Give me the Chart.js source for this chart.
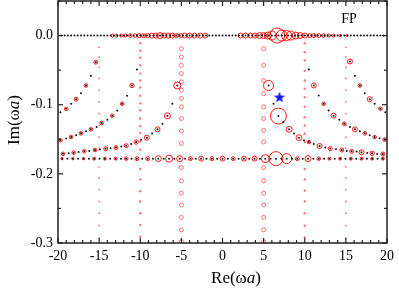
<!DOCTYPE html>
<html>
<head>
<meta charset="utf-8">
<script src="https://cdn.jsdelivr.net/npm/chart.js@4"></script>
<style>
  body { margin: 0; background: #fff; }
</style>
</head>
<body>
<canvas id="modes" width="399" height="288"></canvas>
<script>
// axis ticks
var xTicks = [-20, -15, -10, -5, 0, 5, 10, 15, 20];
var xMinor = [-19, -18, -17, -16, -14, -13, -12, -11, -9, -8, -7, -6, -4, -3, -2, -1,
              1, 2, 3, 4, 6, 7, 8, 9, 11, 12, 13, 14, 16, 17, 18, 19];
var yTicks = [-0.3, -0.2, -0.1, 0.0];
var yMinor = [-0.25, -0.15, -0.05, 0.05];

// modes on the real axis (Im = 0)
var realAxisX = [-19.6, -19.2, -18.8, -18.4, -18, -17.6, -17.2, -16.8, -16.4, -16,
  -15.6, -15.2, -14.8, -14.4, -14, -13.6, -13.2, -12.8, -12.4, -12,
  -11.6, -11.2, -10.8, -10.4, -10, -9.6, -9.2, -8.8, -8.4, -8,
  -7.6, -7.2, -6.8, -6.4, -6, -5.6, -5.2, -4.8, -4.4, -4,
  -3.6, -3.2, -2.8, -2.4, -2, -1.6, -1.2, -0.8, -0.4, 0,
  0.4, 0.8, 1.2, 1.6, 2, 2.4, 2.8, 3.2, 3.6, 4,
  4.4, 4.8, 5.2, 5.6, 6, 6.4, 6.8, 7.2, 7.6, 8,
  8.4, 8.8, 9.2, 9.6, 10, 10.4, 10.8, 11.2, 11.6, 12,
  12.4, 12.8, 13.2, 13.6, 14, 14.4, 14.8, 15.2, 15.6, 16,
  16.4, 16.8, 17.2, 17.6, 18, 18.4, 18.8, 19.2, 19.6];
var realRedX = [-13.4, -12.9, -12.3, -11.8, -11.2, -10.6, -10.1, -9.6, -9.1, -8.6, -8.1,
  -7.6, -7.1, -6.6, -6.1, -5.6, -5.1, -4.6, -4.0, -3.4, -2.7, -2.1,
  2.2, 2.8, 3.4, 3.95, 4.5, 5.0, 5.5, 6.0, 6.65, 7.2, 7.8, 8.3, 8.9, 9.45,
  10.0, 10.6, 11.1, 11.7, 12.3, 12.9, 13.5, 14.3, 15.1];
var realRedW = [1.5, 1.5, 1.5, 1.5, 1.8, 1.8, 2, 2, 2, 2.5, 2.5,
  3, 2.5, 2.5, 2.5, 2, 2, 2.5, 2.5, 2.5, 2.5, 2.5,
  2.5, 2.5, 2.5, 2.5, 3, 3, 3.5, 4.5, 7.5, 5.5, 5, 4.5, 3.5, 3,
  2.5, 2, 2, 2, 1.8, 1.5, 1.5, 1.2, 1];

// horizontal row of modes
var rowIm = -0.178;
var rowX = [-19.5, -18.85, -18.2, -17.55, -16.9, -16.25, -15.6, -14.95, -14.3, -13.65,
  -13.0, -12.35, -11.7, -11.05, -10.4, -9.75, -9.1, -8.45, -7.8, -7.15,
  -6.5, -5.85, -5.2, -4.55, -3.9, -3.25, -2.6, -1.95, -1.3, -0.65,
  0, 0.65, 1.3, 1.95, 2.6, 3.25, 3.9, 4.55, 5.2, 5.85,
  6.5, 7.15, 7.8, 8.45, 9.1, 9.75, 10.4, 11.05, 11.7, 12.35,
  13.0, 13.65, 14.3, 14.95, 15.6, 16.25, 16.9, 17.55, 18.2, 18.85, 19.5];
var rowRedX = [-19.5, -18.2, -16.9, -15.6, -14.3, -13, -11.7, -10.4, -9.1, -7.8, -6.5,
  -5.2, -3.9, -2.6, -1.3, 0, 1.3, 2.6, 3.9, 5.2, 6.5, 7.8, 9.1, 10.4, 11.7,
  13, 14.3, 15.6, 16.9, 18.2, 19.5];
var rowRedW = [1.2, 1.2, 1.2, 1.5, 1.5, 1.5, 1.8, 2, 2, 3, 3.5,
  3, 2, 2.5, 2, 2.5, 2, 2.5, 2.5, 4, 7, 5, 2, 3, 1.8,
  1.5, 1.5, 1.5, 1.5, 1.5, 1.5];

// branches (left / right)
var leftAX = [-19.7, -19.0, -18.4, -17.8, -17.2, -16.6, -16.0, -15.4];
var leftAY = [-0.111, -0.106, -0.0987, -0.092, -0.0833, -0.0722, -0.0582, -0.0385];
var leftAW = [0, 1.8, 0, 2, 0, 1.8, 0, 2];
var rightAX = [15.5, 16.1, 16.7, 17.3, 17.9, 18.5, 19.2, 19.8];
var rightAY = [-0.0375, -0.0582, -0.0722, -0.0833, -0.092, -0.0986, -0.1058, -0.111];
var rightAW = [2.5, 0, 1.8, 0, 2.5, 0, 1.8, 0];

var leftBX = [-19.7, -19.0, -18.4, -17.8, -17.2, -16.6, -16.0, -15.3, -14.7, -14.0,
  -13.4, -12.8, -12.2, -11.6, -11.0, -10.4];
var leftBY = [-0.1515, -0.149, -0.1467, -0.1443, -0.1414, -0.1385, -0.1356, -0.1323, -0.1265, -0.1217,
  -0.1159, -0.1082, -0.0986, -0.087, -0.0722, -0.0491];
var leftBW = [1.8, 0, 1.8, 0, 1.8, 0, 1.8, 0, 1.8, 0, 1.8, 0, 1.8, 0, 2.2, 0];
var rightBX = [10.5, 11.1, 11.7, 12.3, 12.9, 13.5, 14.2, 14.8, 15.5, 16.1,
  16.7, 17.3, 17.9, 18.5, 19.1, 19.7];
var rightBY = [-0.049, -0.0722, -0.0866, -0.0986, -0.1082, -0.1159, -0.1217, -0.1274, -0.1323, -0.1356,
  -0.1385, -0.1414, -0.1443, -0.1467, -0.1486, -0.1505];
var rightBW = [0, 2.5, 0, 1.8, 0, 2.5, 0, 1.8, 0, 2.5, 0, 1.8, 0, 1.8, 0, 1.8];

var leftCX = [-19.4, -18.7, -18.1, -17.5, -16.8, -16.2, -15.5, -14.9, -14.2, -13.6,
  -12.95, -12.3, -11.7, -11.1, -10.5, -9.9, -9.2, -8.56, -7.9, -7.3, -6.7, -6.1, -5.5];
var leftCY = [-0.171, -0.1703, -0.1693, -0.1684, -0.1674, -0.1669, -0.1655, -0.1648, -0.1638, -0.163,
  -0.162, -0.1606, -0.1592, -0.1568, -0.154, -0.1505, -0.1477, -0.1418, -0.1356, -0.1274,
  -0.1159, -0.0986, -0.0722];
var leftCW = [1.8, 0, 1.8, 0, 1.8, 0, 1.8, 0, 2, 0, 2, 0, 2, 0, 2.2, 0, 2.5, 0, 2.5, 0, 3, 0, 3.5];
var rightCX = [5.6, 6.2, 6.8, 7.4, 8.1, 8.7, 9.3, 9.9, 10.5, 11.1, 11.8, 12.5,
  13.1, 13.8, 14.5, 15.1, 15.7, 16.3, 16.9, 17.6, 18.2, 18.8, 19.5];
var rightCY = [-0.0722, -0.0986, -0.1164, -0.1251, -0.1356, -0.1418, -0.1477, -0.1515, -0.154, -0.1568,
  -0.1597, -0.162, -0.1635, -0.1645, -0.1655, -0.167, -0.1674, -0.1678, -0.1688, -0.1699,
  -0.1703, -0.1713, -0.1713];
var rightCW = [5, 0, 8, 0, 3, 0, 3, 0, 1.8, 0, 2.5, 0, 2, 0, 2, 0, 2, 0, 2.5, 0, 2.2, 0, 2];

// vertical columns of modes
var col5LY = [-0.019, -0.031, -0.043, -0.055, -0.067, -0.079, -0.091, -0.103, -0.120, -0.138,
  -0.156, -0.191, -0.210, -0.228, -0.245, -0.263, -0.281, -0.298];
var col5RY = [-0.019, -0.043, -0.065, -0.084, -0.103, -0.120, -0.137, -0.154,
  -0.191, -0.210, -0.228, -0.245, -0.263, -0.281, -0.298];
var col10LY = [-0.011, -0.022, -0.032, -0.043, -0.055, -0.065, -0.075, -0.087, -0.098, -0.108,
  -0.120, -0.131, -0.141, -0.153, -0.165, -0.193, -0.208, -0.225, -0.240, -0.257, -0.274, -0.291];
var col10RY = [-0.011, -0.024, -0.036, -0.051, -0.065, -0.077, -0.089, -0.103, -0.118, -0.130,
  -0.142, -0.154, -0.193, -0.208, -0.224, -0.240, -0.257, -0.275, -0.292];
var col15Y = [-0.017, -0.031, -0.046, -0.062, -0.079, -0.096, -0.113, -0.130, -0.147, -0.163,
  -0.190, -0.206, -0.223, -0.240, -0.257, -0.275, -0.293];

// marked mode
var starX = [6.93];
var starY = [-0.089];

function pts(xs, ys) {
  return xs.map(function (x, i) { return { x: x, y: Array.isArray(ys) ? ys[i] : ys }; });
}
function rings(xs, ys, ws) {
  var out = [];
  xs.forEach(function (x, i) {
    if (ws[i] > 0) out.push({ x: x, y: Array.isArray(ys) ? ys[i] : ys, w: ws[i] });
  });
  return out;
}

var black = '#111';
var red = 'rgba(255,0,0,0.9)';
var pink = 'rgba(255,70,70,0.75)';

function dots(data) {
  return { data: data, order: 0, pointRadius: 1, pointBackgroundColor: black,
           pointBorderWidth: 0, showLine: false };
}
function ringSet(data) {
  return { data: data, order: 1, showLine: false, pointBackgroundColor: 'rgba(0,0,0,0)',
           pointBorderColor: red, pointBorderWidth: 1,
           pointRadius: function (c) { return c.raw ? c.raw.w : 0; } };
}
function column(data, r, filled) {
  return { data: data, order: 2, showLine: false, pointRadius: r,
           pointBackgroundColor: filled ? pink : 'rgba(0,0,0,0)',
           pointBorderColor: pink, pointBorderWidth: filled ? 0 : 1 };
}

// filled blue star used as point style
var starImg = document.createElement('canvas');
starImg.width = 12; starImg.height = 12;
(function () {
  var c = starImg.getContext('2d');
  c.beginPath();
  for (var k = 0; k < 10; k++) {
    var r = k % 2 === 0 ? 6 : 2.4;
    var a = -Math.PI / 2 + k * Math.PI / 5;
    c.lineTo(6 + r * Math.cos(a), 6.5 + r * Math.sin(a));
  }
  c.closePath();
  c.fillStyle = '#1010ff';
  c.fill();
})();

var serif = "'Liberation Serif', 'DejaVu Serif', serif";

function drawMixed(ctx, parts, cx, cy) {
  var total = 0;
  parts.forEach(function (p) { ctx.font = p[1]; total += ctx.measureText(p[0]).width; });
  var x = cx - total / 2;
  parts.forEach(function (p) {
    ctx.font = p[1];
    ctx.fillText(p[0], x, cy);
    x += ctx.measureText(p[0]).width;
  });
}

var decor = {
  id: 'decor',
  afterDatasetsDraw: function (chart) {
    var ctx = chart.ctx, a = chart.chartArea, sx = chart.scales.x, sy = chart.scales.y;
    ctx.save();
    ctx.strokeStyle = '#222';
    ctx.lineWidth = 1.2;
    function seg(x1, y1, x2, y2) { ctx.beginPath(); ctx.moveTo(x1, y1); ctx.lineTo(x2, y2); ctx.stroke(); }
    function xt(v, len) {
      var p = sx.getPixelForValue(v);
      seg(p, a.bottom, p, a.bottom - len); seg(p, a.top, p, a.top + len);
    }
    function yt(v, len) {
      var p = sy.getPixelForValue(v);
      seg(a.left, p, a.left + len, p); seg(a.right, p, a.right - len, p);
    }
    xTicks.forEach(function (v) { xt(v, 5); });
    xMinor.forEach(function (v) { xt(v, 3); });
    yTicks.forEach(function (v) { yt(v, 5); });
    yMinor.forEach(function (v) { yt(v, 3); });
    ctx.lineWidth = 1.5;
    ctx.strokeRect(a.left, a.top, a.right - a.left, a.bottom - a.top);

    ctx.fillStyle = '#000';
    ctx.textBaseline = 'alphabetic';
    ctx.textAlign = 'left';
    drawMixed(ctx, [['FP', '14px ' + serif]], a.right - 38, a.top + 22);
    drawMixed(ctx, [['Re(', '17px ' + serif], ['ω', '17px ' + serif], ['a', 'italic 17px ' + serif], [')', '17px ' + serif]],
              236, 283);
    ctx.translate(19, 120);
    ctx.rotate(-Math.PI / 2);
    drawMixed(ctx, [['Im(', '17px ' + serif], ['ω', '17px ' + serif], ['a', 'italic 17px ' + serif], [')', '17px ' + serif]],
              0, 0);
    ctx.restore();
  }
};

new Chart(document.getElementById('modes').getContext('2d'), {
  type: 'scatter',
  data: {
    datasets: [
      { data: pts(starX, starY), order: -1, pointStyle: starImg, pointRadius: 6 },
      dots(pts(realAxisX, 0)),
      dots(pts(rowX, rowIm)),
      dots(pts(leftAX, leftAY)), dots(pts(rightAX, rightAY)),
      dots(pts(leftBX, leftBY)), dots(pts(rightBX, rightBY)),
      dots(pts(leftCX, leftCY)), dots(pts(rightCX, rightCY)),
      ringSet(rings(realRedX, 0, realRedW)),
      ringSet(rings(rowRedX, rowIm, rowRedW)),
      ringSet(rings(leftAX, leftAY, leftAW)), ringSet(rings(rightAX, rightAY, rightAW)),
      ringSet(rings(leftBX, leftBY, leftBW)), ringSet(rings(rightBX, rightBY, rightBW)),
      ringSet(rings(leftCX, leftCY, leftCW)), ringSet(rings(rightCX, rightCY, rightCW)),
      column(pts(col5LY.map(function () { return -5; }), col5LY), 2, false),
      column(pts(col5RY.map(function () { return 5; }), col5RY), 2, false),
      column(pts(col10LY.map(function () { return -10; }), col10LY), 1.2, true),
      column(pts(col10RY.map(function () { return 10; }), col10RY), 1.2, true),
      column(pts(col15Y.map(function () { return -15; }), col15Y), 0.9, true),
      column(pts(col15Y.map(function () { return 15; }), col15Y), 0.9, true)
    ]
  },
  options: {
    responsive: false,
    animation: false,
    events: [],
    layout: { autoPadding: false, padding: { top: 1, right: 12, left: 0, bottom: 0 } },
    plugins: { legend: { display: false }, tooltip: { enabled: false } },
    scales: {
      x: {
        type: 'linear', min: -20, max: 20,
        afterBuildTicks: function (s) { s.ticks = xTicks.map(function (v) { return { value: v }; }); },
        afterFit: function (s) { s.height = 45; s.paddingLeft = 0; s.paddingRight = 0; },
        grid: { display: false, drawTicks: false },
        border: { display: false },
        ticks: { color: '#000', padding: 5, font: { family: serif, size: 14 },
                 callback: function (v) { return String(v); } }
      },
      y: {
        type: 'linear', min: -0.3, max: 0.05,
        afterBuildTicks: function (s) { s.ticks = yTicks.map(function (v) { return { value: v }; }); },
        afterFit: function (s) { s.width = 58; s.paddingTop = 0; s.paddingBottom = 0; },
        grid: { display: false, drawTicks: false },
        border: { display: false },
        ticks: { color: '#000', padding: 5, font: { family: serif, size: 14 },
                 callback: function (v) { return Number(v).toFixed(1); } }
      }
    }
  },
  plugins: [decor]
});
</script>
</body>
</html>
